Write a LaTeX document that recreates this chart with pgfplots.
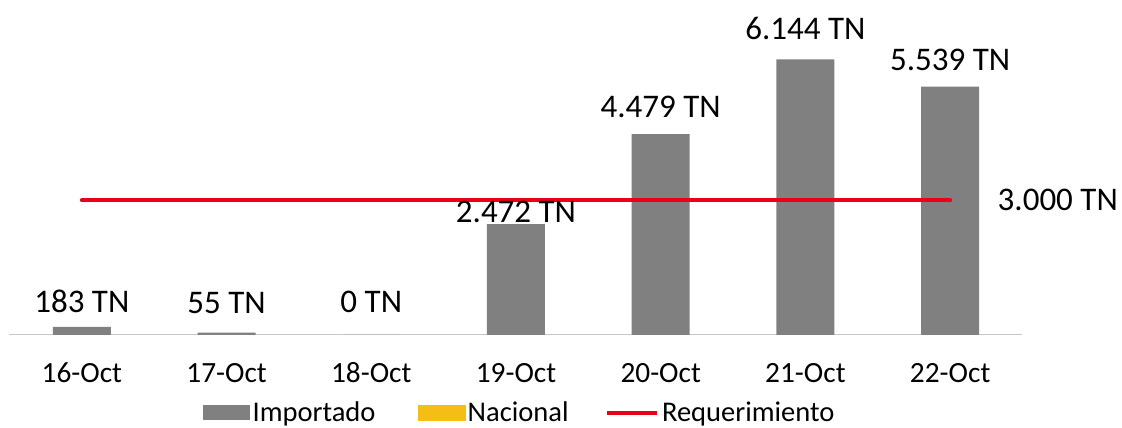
\documentclass[border=0pt]{standalone}
\usepackage{fontspec}
\setmainfont{Carlito}
\usepackage{pgfplots}
\pgfplotsset{compat=1.18}
\usepackage{pgfplotstable}
\definecolor{impgray}{RGB}{128,128,128}
\definecolor{nacyellow}{RGB}{244,190,20}
\definecolor{reqred}{RGB}{235,0,28}
\pgfplotstableread{
x y dy
0 183 10.8
1 55 14.6
2 0 16.5
3 2472 1.5
4 4479 12.75
5 6144 15
6 5539 12
}\importado
\begin{document}
\begin{tikzpicture}
\useasboundingbox (-7.125pt,-69.75pt) rectangle (834.375pt,251.25pt);
\begin{axis}[
  at={(0,0)}, anchor=south west,
  scale only axis, width=759.75pt, height=235.5pt,
  xmin=-0.5, xmax=6.5, ymin=0, ymax=7000,
  axis y line=none, axis x line*=bottom,
  x axis line style={-, draw=black!22, line width=0.75pt},
  xtick={0,...,6},
  xticklabels={16-Oct,17-Oct,18-Oct,19-Oct,20-Oct,21-Oct,22-Oct},
  major tick length=0pt,
  xticklabel style={font=\fontsize{22}{26}\selectfont, anchor=base, yshift=-36pt},
  /pgf/number format/assume math mode=true,
  clip=false,
  legend style={draw=none, fill=none, inner sep=0pt, outer sep=0pt,
    at={(0.191,-0.2472)}, anchor=west,
    legend columns=3, font=\fontsize{21.4}{25}\selectfont,
    nodes={inner xsep=2pt, inner ysep=0pt},
    /tikz/every even column/.append style={column sep=25pt}},
  legend cell align=left,
]
\addplot[ybar, bar width=43.5pt, fill=impgray, draw=none,
  point meta=explicit symbolic,
  visualization depends on={\thisrow{dy} \as \dy},
  nodes near coords={\pgfmathprintnumber[fixed,precision=0,1000 sep={.},assume math mode=true]{\pgfplotspointmeta}~TN},
  every node near coord/.append style={anchor=base, yshift=\dy*1pt, text=black, font=\fontsize{24.75}{28}\selectfont},
  legend image code/.code={\fill[impgray] (0pt,-5.6pt) rectangle (35.25pt,5.6pt);}
] table[x=x, y=y, meta=y] {\importado};
\addlegendimage{legend image code/.code={\fill[nacyellow] (0pt,-5.6pt) rectangle (35.25pt,5.6pt);}}
\addplot[reqred, line width=3pt, line cap=round,
  legend image code/.code={\draw[reqred, line width=3pt, line cap=butt] (0pt,0pt) -- (38pt,0pt);}]
  coordinates {(0,3000) (6,3000)};
\node[anchor=base west, inner sep=0pt, xshift=35.5pt, yshift=-7.5pt, font=\fontsize{24.75}{28}\selectfont] at (axis cs:6,3000) {3.000 TN};
\legend{Importado\rule{4.5pt}{0pt}, Nacional, Requerimiento}
\end{axis}
\end{tikzpicture}
\end{document}
